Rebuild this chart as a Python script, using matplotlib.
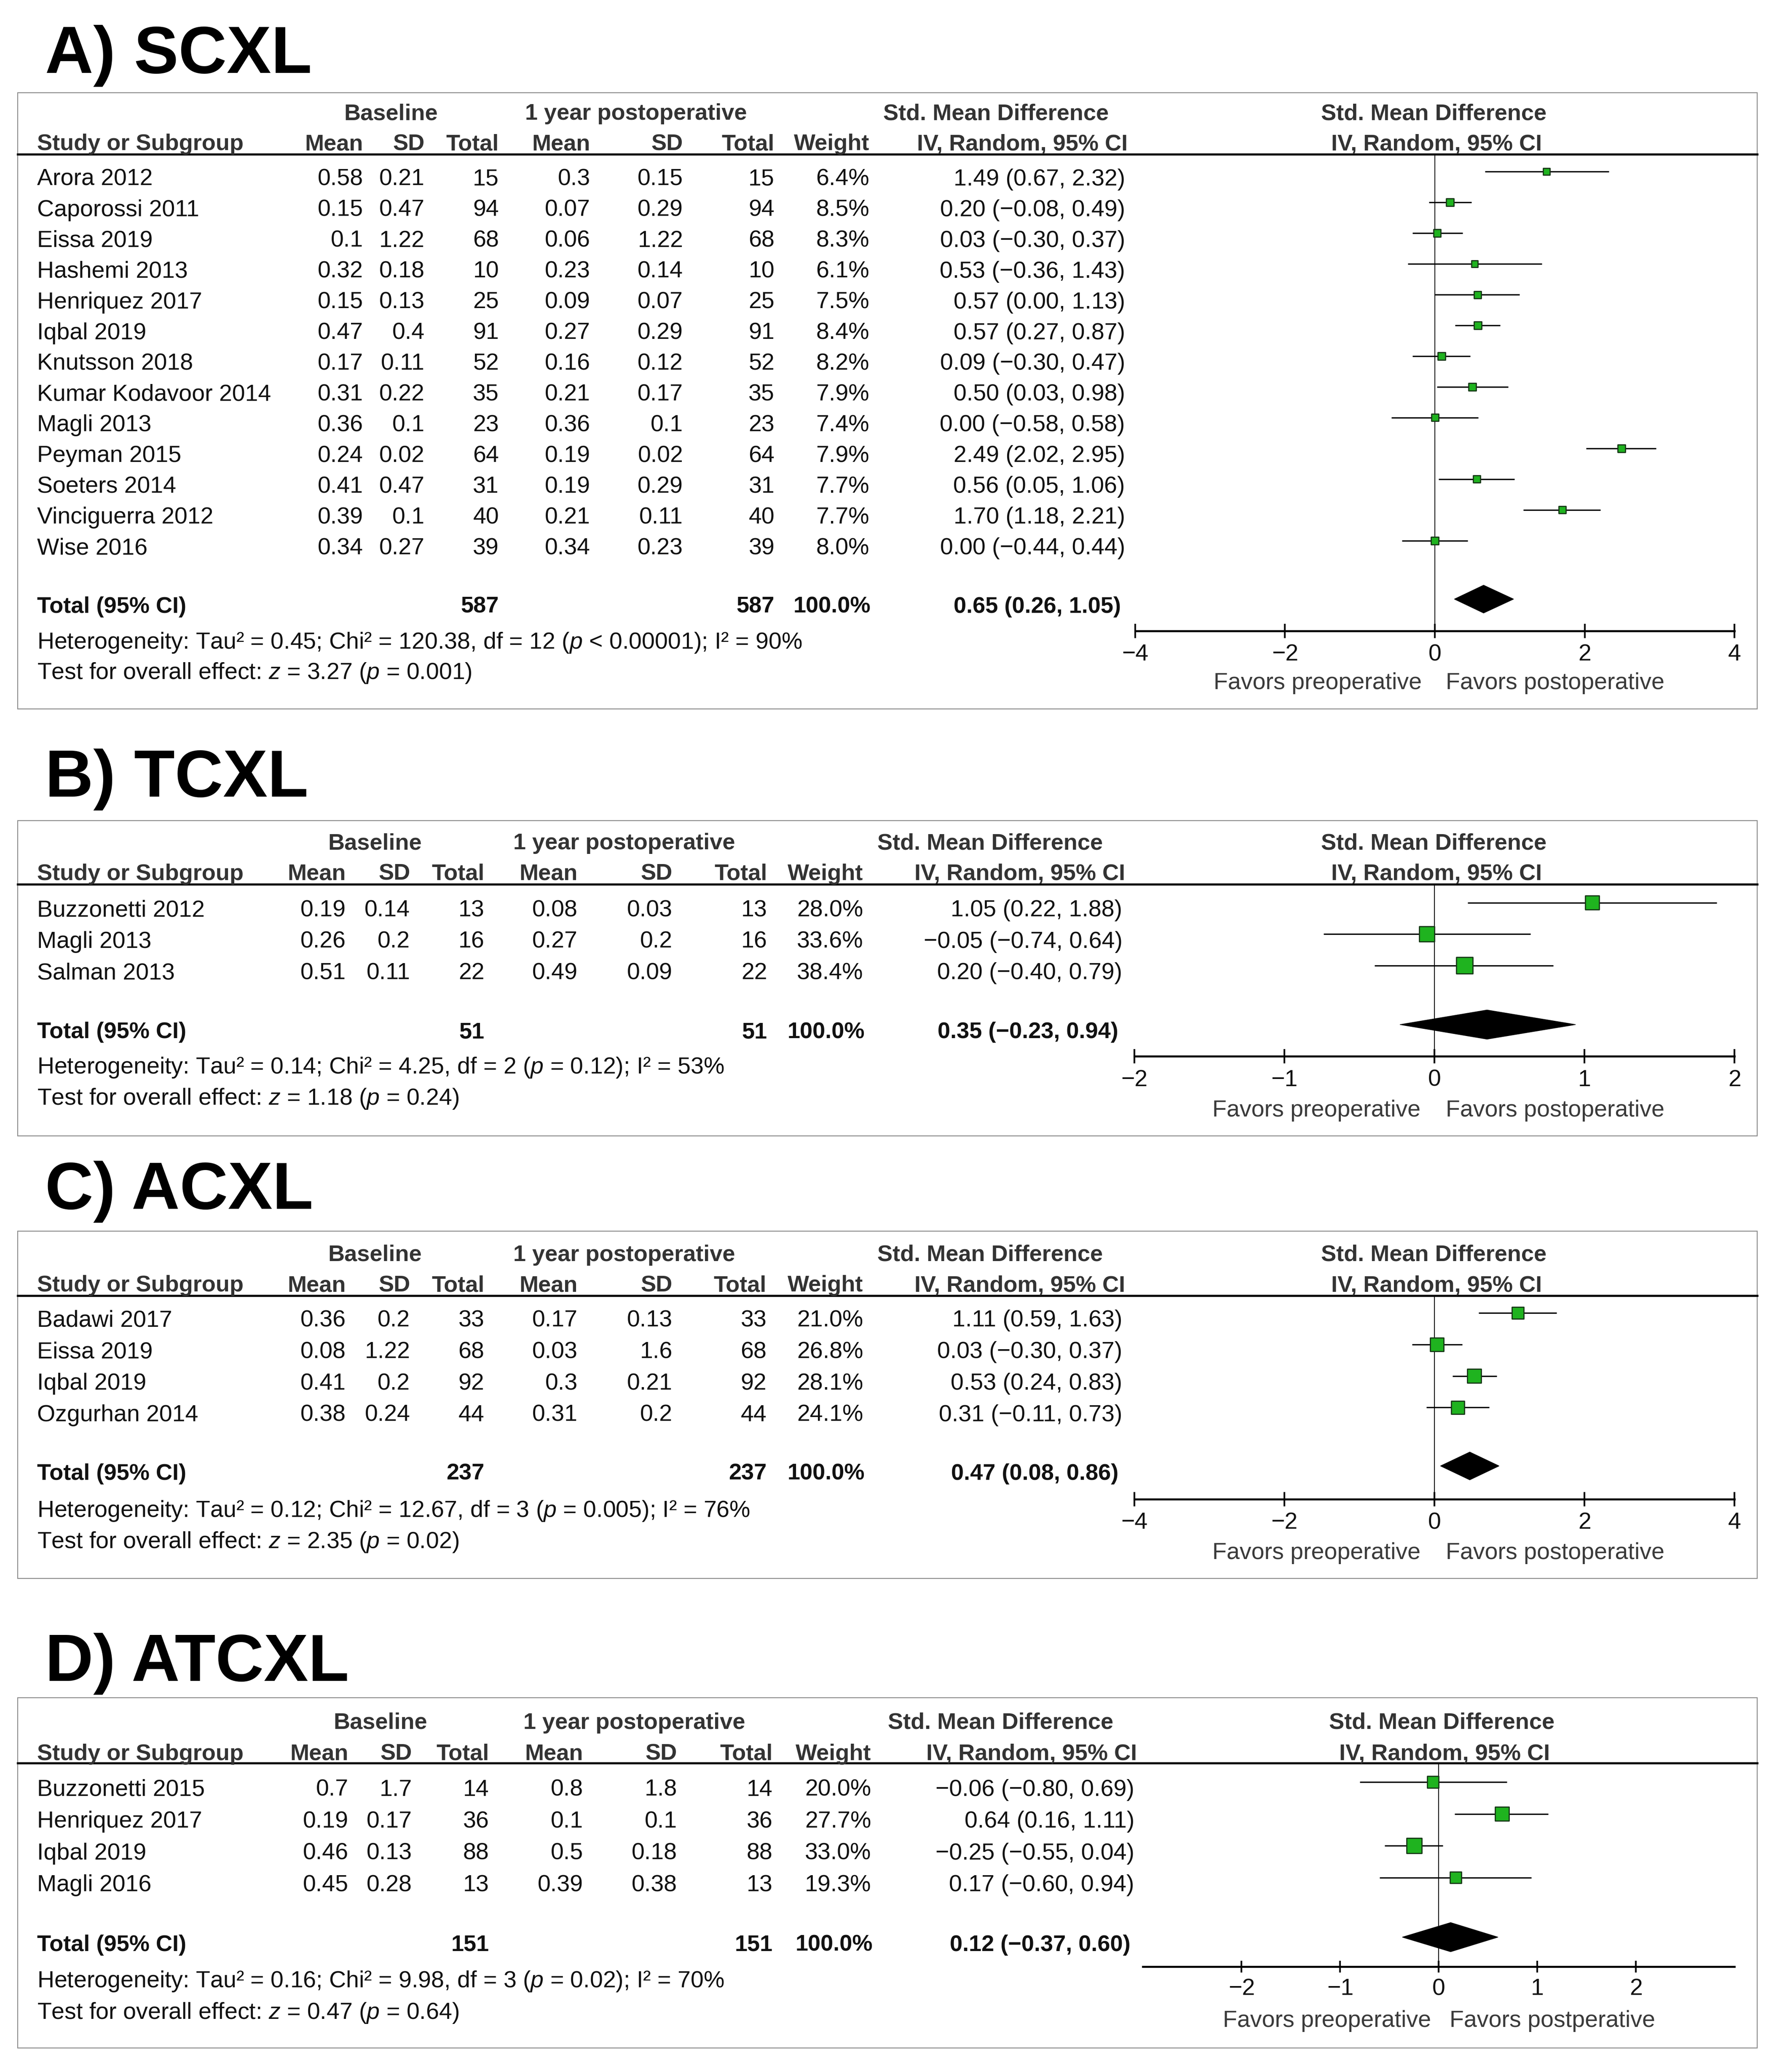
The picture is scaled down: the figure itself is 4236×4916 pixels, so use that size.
import matplotlib
matplotlib.use("Agg")
import matplotlib.pyplot as plt
from matplotlib.patches import Rectangle, Polygon
from matplotlib.lines import Line2D
import numpy as np

plt.rcParams['font.family'] = ['Liberation Sans', 'DejaVu Sans']
plt.rcParams['mathtext.fontset'] = 'custom'
plt.rcParams['mathtext.rm'] = 'Liberation Sans'
plt.rcParams['mathtext.it'] = 'Liberation Sans:italic'
plt.rcParams['mathtext.bf'] = 'Liberation Sans:bold'

# ---------------- DATA ----------------
# Panel A) SCXL
studies_A = ["Arora 2012", "Caporossi 2011", "Eissa 2019", "Hashemi 2013", "Henriquez 2017",
             "Iqbal 2019", "Knutsson 2018", "Kumar Kodavoor 2014", "Magli 2013", "Peyman 2015",
             "Soeters 2014", "Vinciguerra 2012", "Wise 2016"]
base_mean_A = [0.58, 0.15, 0.1, 0.32, 0.15, 0.47, 0.17, 0.31, 0.36, 0.24, 0.41, 0.39, 0.34]
base_sd_A = [0.21, 0.47, 1.22, 0.18, 0.13, 0.4, 0.11, 0.22, 0.1, 0.02, 0.47, 0.1, 0.27]
base_n_A = [15, 94, 68, 10, 25, 91, 52, 35, 23, 64, 31, 40, 39]
post_mean_A = [0.3, 0.07, 0.06, 0.23, 0.09, 0.27, 0.16, 0.21, 0.36, 0.19, 0.19, 0.21, 0.34]
post_sd_A = [0.15, 0.29, 1.22, 0.14, 0.07, 0.29, 0.12, 0.17, 0.1, 0.02, 0.29, 0.11, 0.23]
post_n_A = [15, 94, 68, 10, 25, 91, 52, 35, 23, 64, 31, 40, 39]
weight_A = [6.4, 8.5, 8.3, 6.1, 7.5, 8.4, 8.2, 7.9, 7.4, 7.9, 7.7, 7.7, 8.0]
smd_A = [1.49, 0.20, 0.03, 0.53, 0.57, 0.57, 0.09, 0.50, 0.00, 2.49, 0.56, 1.70, 0.00]
lo_A = [0.67, -0.08, -0.30, -0.36, 0.00, 0.27, -0.30, 0.03, -0.58, 2.02, 0.05, 1.18, -0.44]
hi_A = [2.32, 0.49, 0.37, 1.43, 1.13, 0.87, 0.47, 0.98, 0.58, 2.95, 1.06, 2.21, 0.44]
total_A = (587, 587, 0.65, 0.26, 1.05)
het_A = ("0.45", "120.38", "12", "< 0.00001", "90")
test_A = ("3.27", "= 0.001")

# Panel B) TCXL
studies_B = ["Buzzonetti 2012", "Magli 2013", "Salman 2013"]
base_mean_B = [0.19, 0.26, 0.51]
base_sd_B = [0.14, 0.2, 0.11]
base_n_B = [13, 16, 22]
post_mean_B = [0.08, 0.27, 0.49]
post_sd_B = [0.03, 0.2, 0.09]
post_n_B = [13, 16, 22]
weight_B = [28.0, 33.6, 38.4]
smd_B = [1.05, -0.05, 0.20]
lo_B = [0.22, -0.74, -0.40]
hi_B = [1.88, 0.64, 0.79]
total_B = (51, 51, 0.35, -0.23, 0.94)
het_B = ("0.14", "4.25", "2", "= 0.12", "53")
test_B = ("1.18", "= 0.24")

# Panel C) ACXL
studies_C = ["Badawi 2017", "Eissa 2019", "Iqbal 2019", "Ozgurhan 2014"]
base_mean_C = [0.36, 0.08, 0.41, 0.38]
base_sd_C = [0.2, 1.22, 0.2, 0.24]
base_n_C = [33, 68, 92, 44]
post_mean_C = [0.17, 0.03, 0.3, 0.31]
post_sd_C = [0.13, 1.6, 0.21, 0.2]
post_n_C = [33, 68, 92, 44]
weight_C = [21.0, 26.8, 28.1, 24.1]
smd_C = [1.11, 0.03, 0.53, 0.31]
lo_C = [0.59, -0.30, 0.24, -0.11]
hi_C = [1.63, 0.37, 0.83, 0.73]
total_C = (237, 237, 0.47, 0.08, 0.86)
het_C = ("0.12", "12.67", "3", "= 0.005", "76")
test_C = ("2.35", "= 0.02")

# Panel D) ATCXL
studies_D = ["Buzzonetti 2015", "Henriquez 2017", "Iqbal 2019", "Magli 2016"]
base_mean_D = [0.7, 0.19, 0.46, 0.45]
base_sd_D = [1.7, 0.17, 0.13, 0.28]
base_n_D = [14, 36, 88, 13]
post_mean_D = [0.8, 0.1, 0.5, 0.39]
post_sd_D = [1.8, 0.1, 0.18, 0.38]
post_n_D = [14, 36, 88, 13]
weight_D = [20.0, 27.7, 33.0, 19.3]
smd_D = [-0.06, 0.64, -0.25, 0.17]
lo_D = [-0.80, 0.16, -0.55, -0.60]
hi_D = [0.69, 1.11, 0.04, 0.94]
total_D = (151, 151, 0.12, -0.37, 0.60)
het_D = ("0.16", "9.98", "3", "= 0.02", "70")
test_D = ("0.47", "= 0.64")

titles = ["A) SCXL", "B) TCXL", "C) ACXL", "D) ATCXL"]
xticks_list = [[-4, -2, 0, 2, 4], [-2, -1, 0, 1, 2], [-4, -2, 0, 2, 4], [-2, -1, 0, 1, 2]]
xlims = [(-4, 4), (-2, 2), (-4, 4), (-3, 3)]
favors_left = ["Favors preoperative"] * 4
favors_right = ["Favors postoperative", "Favors postoperative", "Favors postoperative", "Favors postperative"]

# ---------------- LAYOUT (reference units, 1347 wide) ----------------
W, H = 4236, 4916
DPI = 100
S = W / 1347.0

layouts = [
    dict(title_y=55, box=(13.5, 70, 1326, 535), hdr1=84, hdr2=107, hline=116.5,
         row0=133.5, step=23.2, total=456, het=483, test=506, axis=476, fav=513.5,
         cols=[274, 320.5, 376.5, 445.5, 515.5, 584.5, 656, 849], base_c=295, post_c=480,
         smd_c=751.5, fx=(856.6, 1309.0), rhdr_c=1082, fav_x=(1073, 1091), ticklen=24, dia_h=10.5),
    dict(title_y=601, box=(13.5, 619, 1326, 857), hdr1=634.5, hdr2=657.5, hline=667,
         row0=685, step=23.7, total=777, het=803.5, test=827, axis=797, fav=836,
         cols=[261, 309.5, 365.5, 436, 507.5, 579, 651.5, 847], base_c=283, post_c=471,
         smd_c=747, fx=(856.0, 1309.0), rhdr_c=1082, fav_x=(1072, 1091), ticklen=24, dia_h=11),
    dict(title_y=912, box=(13.5, 929, 1326, 1191), hdr1=945, hdr2=968, hline=977.5,
         row0=994.5, step=23.8, total=1110, het=1138, test=1161.5, axis=1131, fav=1170,
         cols=[261, 309.5, 365.5, 436, 507.5, 578.5, 651.5, 847], base_c=283, post_c=471,
         smd_c=747, fx=(856.0, 1309.0), rhdr_c=1082, fav_x=(1072, 1091), ticklen=24, dia_h=10.5),
    dict(title_y=1268, box=(13.5, 1281, 1326, 1545), hdr1=1298, hdr2=1321.5, hline=1330,
         row0=1348.5, step=24.0, total=1465.5, het=1493, test=1517, axis=1483.6, fav=1523,
         cols=[263, 311, 369, 440, 511, 583, 657.5, 856], base_c=287, post_c=478.6,
         smd_c=755, fx=(862.5, 1309.0), rhdr_c=1088, fav_x=(1080, 1094), ticklen=20, dia_h=11),
]

FS = 40      # regular table text
FSB = 39     # bold table text
CAP = 0.716 * FS * DPI / 72 / S   # cap height in reference units
MARK_DY = -4  # marks sit slightly above text centre

fig = plt.figure(figsize=(W / DPI, H / DPI), dpi=DPI)


def fx(x):
    return x * S / W


def fy(y):
    return 1 - y * S / H


def T(x, y, s, ha='left', bold=False, color='#111111', size=None):
    size = size or (FSB if bold else FS)
    fig.text(fx(x), fy(y + CAP / 2), s, ha=ha, va='baseline', fontsize=size,
             fontweight='bold' if bold else 'normal', color=color)


def fmt_ci(e, l, h):
    f = lambda v: ("%.2f" % v).replace("-", "\u2212")
    return "%s (%s, %s)" % (f(e), f(l), f(h))


panels = [
    (studies_A, base_mean_A, base_sd_A, base_n_A, post_mean_A, post_sd_A, post_n_A, weight_A, smd_A, lo_A, hi_A, total_A, het_A, test_A),
    (studies_B, base_mean_B, base_sd_B, base_n_B, post_mean_B, post_sd_B, post_n_B, weight_B, smd_B, lo_B, hi_B, total_B, het_B, test_B),
    (studies_C, base_mean_C, base_sd_C, base_n_C, post_mean_C, post_sd_C, post_n_C, weight_C, smd_C, lo_C, hi_C, total_C, het_C, test_C),
    (studies_D, base_mean_D, base_sd_D, base_n_D, post_mean_D, post_sd_D, post_n_D, weight_D, smd_D, lo_D, hi_D, total_D, het_D, test_D),
]

HDR = '#333333'
for p, (L, data) in enumerate(zip(layouts, panels)):
    (st, bm, bsd, bn, pm, psd, pn, w, smd, lo, hi, tot, het, tst) = data
    # title
    fig.text(fx(34), fy(L['title_y']), titles[p], ha='left', va='baseline',
             fontsize=114, fontweight='bold', color='black')
    # box
    x0, y0, x1, y1 = L['box']
    fig.add_artist(Rectangle((fx(x0), fy(y1)), fx(x1) - fx(x0), fy(y0) - fy(y1),
                             transform=fig.transFigure, fill=False, ec='#8c8c8c', lw=1.6))
    fig.add_artist(Line2D([fx(x0), fx(x1)], [fy(L['hline']), fy(L['hline'])],
                          transform=fig.transFigure, color='black', lw=3.6))
    c = L['cols']
    # headers
    T(L['base_c'], L['hdr1'], "Baseline", ha='center', bold=True, color=HDR)
    T(L['post_c'], L['hdr1'], "1 year postoperative", ha='center', bold=True, color=HDR)
    T(L['smd_c'], L['hdr1'], "Std. Mean Difference", ha='center', bold=True, color=HDR)
    T(L['rhdr_c'], L['hdr1'], "Std. Mean Difference", ha='center', bold=True, color=HDR)
    T(28, L['hdr2'], "Study or Subgroup", bold=True, color=HDR)
    for col, lab in zip(c[:7], ["Mean", "SD", "Total", "Mean", "SD", "Total", "Weight"]):
        T(col, L['hdr2'], lab, ha='right', bold=True, color=HDR)
    T(c[7] + 2, L['hdr2'], "IV, Random, 95% CI", ha='right', bold=True, color=HDR)
    T(L['rhdr_c'] + 2, L['hdr2'], "IV, Random, 95% CI", ha='center', bold=True, color=HDR)
    # rows
    rows_y = [L['row0'] + i * L['step'] for i in range(len(st))]
    for i, y in enumerate(rows_y):
        T(28, y, st[i])
        vals = ["%g" % bm[i], "%g" % bsd[i], "%d" % bn[i], "%g" % pm[i], "%g" % psd[i],
                "%d" % pn[i], "%.1f%%" % w[i], fmt_ci(smd[i], lo[i], hi[i])]
        for col, v in zip(c, vals):
            T(col, y, v, ha='right')
    # totals
    T(28, L['total'], "Total (95% CI)", bold=True)
    T(c[2], L['total'], "%d" % tot[0], ha='right', bold=True)
    T(c[5], L['total'], "%d" % tot[1], ha='right', bold=True)
    T(c[6] + 1, L['total'], "100.0%", ha='right', bold=True)
    T(c[7] - 3, L['total'], fmt_ci(tot[2], tot[3], tot[4]), ha='right', bold=True)
    T(28, L['het'], "Heterogeneity: Tau\u00b2 = %s; Chi\u00b2 = %s, df = %s ($p$ %s); I\u00b2 = %s%%" % het)
    T(28, L['test'], "Test for overall effect: $z$ = %s ($p$ %s)" % tst)

    # forest axes
    xl, xr = L['fx']
    ax = fig.add_axes([fx(xl), fy(L['axis']), fx(xr) - fx(xl), fy(L['hline']) - fy(L['axis'])])
    ax.set_xlim(*xlims[p])
    ax.set_ylim(L['axis'], L['hline'])
    ax.patch.set_alpha(0)
    for s in ['top', 'left', 'right']:
        ax.spines[s].set_visible(False)
    ax.spines['bottom'].set_linewidth(3.4)
    ax.set_yticks([])
    ax.set_xticks(xticks_list[p])
    ax.set_xticklabels([("%g" % t).replace("-", "\u2212") for t in xticks_list[p]])
    ax.tick_params(axis='x', direction='inout', length=L['ticklen'], width=3,
                   labelsize=FS, pad=10, colors='#111111')
    ax.axvline(0, color='#111111', lw=1.5, zorder=1)
    my = [y + MARK_DY for y in rows_y]
    ax.hlines(my, lo, hi, color='black', lw=2.3, zorder=2, clip_on=False)
    sizes = [(6.2 * np.sqrt(wi) * 72 / DPI) ** 2 for wi in w]
    ax.scatter(smd, my, s=sizes, marker='s', facecolor='#1fb31f', edgecolor='#163816',
               linewidths=2.0, zorder=3, clip_on=False)
    ty = L['total'] + MARK_DY
    h = L['dia_h']
    ax.add_patch(Polygon([(tot[3], ty), (tot[2], ty - h), (tot[4], ty), (tot[2], ty + h)],
                         closed=True, fc='black', ec='black', lw=1, zorder=3, clip_on=False))
    # favors labels
    fl, fr = L['fav_x']
    T(fl, L['fav'], favors_left[p], ha='right', color='#3a3a3a')
    T(fr, L['fav'], favors_right[p], ha='left', color='#3a3a3a')

fig.savefig("out.png", dpi=DPI, facecolor='white')
